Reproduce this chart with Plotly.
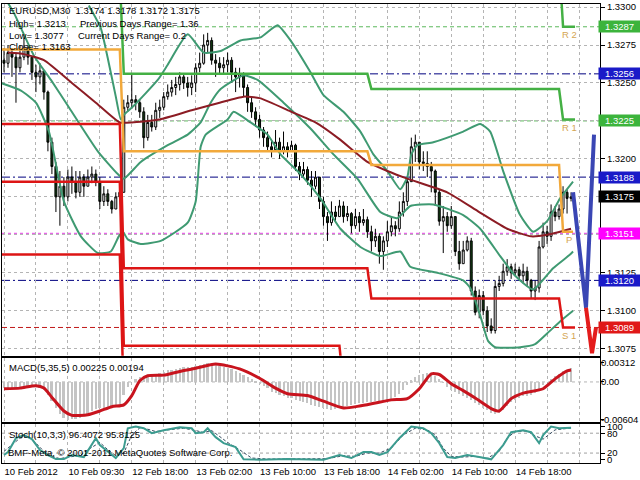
import plotly.graph_objects as go

# ---------------- data ----------------
symbol_title = "EURUSD,M30  1.3174 1.3178 1.3172 1.3175"
info_left = ["High= 1.3213", "Low= 1.3077", "Close= 1.3163"]
info_right = ["Previous Days Range= 1.36", "Current Days Range= 0.2"]
macd_title = "MACD(5,35,5) 0.00225 0.00194"
stoch_title = "Stoch(10,3,3) 96.4072 95.8125"
copyright_text = "BMF-Meta, \u00a9 2001-2011 MetaQuotes Software Corp."

time_label_idx = [0, 16, 32, 48, 64, 80, 96, 112, 128]
time_labels = ["10 Feb 2012", "10 Feb 09:30", "12 Feb 18:00", "13 Feb 02:00", "13 Feb 10:00",
               "13 Feb 18:00", "14 Feb 02:00", "14 Feb 10:00", "14 Feb 18:00"]
grid_idx = list(range(0, 150, 8))

price_ticks = [1.3300, 1.3275, 1.3250, 1.3225, 1.3200, 1.3175, 1.3150, 1.3125, 1.3100, 1.3075]

first_open = 1.3265
close = [
    1.3263, 1.3270, 1.3267, 1.3260, 1.3267, 1.3273, 1.3267, 1.3257, 1.3254, 1.3258,
    1.3244, 1.3211, 1.3195, 1.3175, 1.3182, 1.3175, 1.3188, 1.3185, 1.3178, 1.3188,
    1.3182, 1.3188, 1.3190, 1.3185, 1.3172, 1.3177, 1.3172, 1.3167, 1.3175, 1.3178,
    1.3234, 1.3237, 1.3239, 1.3237, 1.3231, 1.3214, 1.3224, 1.3221, 1.3232, 1.3234,
    1.3241, 1.3244, 1.3247, 1.3249, 1.3254, 1.3250, 1.3247, 1.3250, 1.3260, 1.3263,
    1.3275, 1.3278, 1.3265, 1.3263, 1.3260, 1.3262, 1.3265, 1.3257, 1.3254, 1.3256,
    1.3247, 1.3237, 1.3231, 1.3226, 1.3219, 1.3214, 1.3208, 1.3206, 1.3211, 1.3205,
    1.3208, 1.3205, 1.3209, 1.3195, 1.3190, 1.3193, 1.3186, 1.3182, 1.3188, 1.3172,
    1.3162, 1.3158, 1.3165, 1.3162, 1.3169, 1.3162, 1.3164, 1.3156, 1.3162, 1.3158,
    1.3160, 1.3152, 1.3146, 1.3149, 1.3139, 1.3146, 1.3152, 1.3156, 1.3154, 1.3165,
    1.3172, 1.3185, 1.3208, 1.3211, 1.3198, 1.3197, 1.3195, 1.3192, 1.3178, 1.3159,
    1.3162, 1.3156, 1.3162, 1.3139, 1.3131, 1.3140, 1.3146, 1.3113, 1.3099, 1.3110,
    1.3100, 1.3090, 1.3087, 1.3116, 1.3118, 1.3126, 1.3129, 1.3125, 1.3127, 1.3123,
    1.3126, 1.3120, 1.3113, 1.3115, 1.3142, 1.3152, 1.3149, 1.3165, 1.3162, 1.3167,
    1.3178, 1.3174, 1.3175]
high = [
    1.3273, 1.3275, 1.3273, 1.3270, 1.3275, 1.3280, 1.3275, 1.3267, 1.3262, 1.3263,
    1.3258, 1.3245, 1.3214, 1.3198, 1.3192, 1.3188, 1.3193, 1.3195, 1.3192, 1.3192,
    1.3190, 1.3193, 1.3195, 1.3193, 1.3188, 1.3182, 1.3180, 1.3173, 1.3178, 1.3182,
    1.3239, 1.3242, 1.3256, 1.3242, 1.3239, 1.3234, 1.3229, 1.3229, 1.3237, 1.3239,
    1.3244, 1.3249, 1.3252, 1.3254, 1.3257, 1.3256, 1.3254, 1.3255, 1.3263, 1.3270,
    1.3282, 1.3283, 1.3280, 1.3269, 1.3267, 1.3267, 1.3270, 1.3267, 1.3260, 1.3260,
    1.3257, 1.3249, 1.3241, 1.3234, 1.3229, 1.3221, 1.3218, 1.3212, 1.3219, 1.3214,
    1.3218, 1.3211, 1.3212, 1.3210, 1.3198, 1.3198, 1.3195, 1.3192, 1.3192, 1.3188,
    1.3175, 1.3165, 1.3172, 1.3169, 1.3173, 1.3172, 1.3169, 1.3165, 1.3167, 1.3165,
    1.3167, 1.3162, 1.3156, 1.3154, 1.3151, 1.3149, 1.3159, 1.3162, 1.3159, 1.3172,
    1.3178, 1.3188, 1.3214, 1.3216, 1.3211, 1.3205, 1.3205, 1.3198, 1.3193, 1.3180,
    1.3169, 1.3165, 1.3169, 1.3162, 1.3146, 1.3146, 1.3149, 1.3148, 1.3116, 1.3114,
    1.3113, 1.3103, 1.3095, 1.3120, 1.3123, 1.3131, 1.3134, 1.3131, 1.3131, 1.3129,
    1.3131, 1.3129, 1.3121, 1.3120, 1.3146, 1.3158, 1.3156, 1.3170, 1.3169, 1.3170,
    1.3182, 1.3180, 1.3178]
low = [
    1.3257, 1.3260, 1.3254, 1.3237, 1.3257, 1.3265, 1.3262, 1.3252, 1.3244, 1.3249,
    1.3239, 1.3205, 1.3190, 1.3165, 1.3156, 1.3169, 1.3172, 1.3177, 1.3174, 1.3175,
    1.3175, 1.3182, 1.3184, 1.3182, 1.3167, 1.3169, 1.3169, 1.3164, 1.3167, 1.3172,
    1.3178, 1.3231, 1.3233, 1.3232, 1.3227, 1.3207, 1.3212, 1.3218, 1.3219, 1.3227,
    1.3232, 1.3239, 1.3241, 1.3242, 1.3245, 1.3246, 1.3241, 1.3242, 1.3244, 1.3257,
    1.3262, 1.3270, 1.3262, 1.3254, 1.3256, 1.3256, 1.3257, 1.3250, 1.3244, 1.3247,
    1.3241, 1.3231, 1.3227, 1.3221, 1.3214, 1.3208, 1.3205, 1.3201, 1.3205, 1.3200,
    1.3203, 1.3201, 1.3205, 1.3192, 1.3186, 1.3188, 1.3183, 1.3175, 1.3180, 1.3167,
    1.3156, 1.3146, 1.3156, 1.3159, 1.3162, 1.3158, 1.3159, 1.3151, 1.3154, 1.3152,
    1.3156, 1.3148, 1.3139, 1.3142, 1.3131, 1.3127, 1.3142, 1.3149, 1.3149, 1.3152,
    1.3162, 1.3169, 1.3185, 1.3198, 1.3193, 1.3192, 1.3188, 1.3178, 1.3169, 1.3156,
    1.3138, 1.3152, 1.3154, 1.3136, 1.3127, 1.3131, 1.3139, 1.3110, 1.3097, 1.3095,
    1.3097, 1.3086, 1.3085, 1.3085, 1.3113, 1.3116, 1.3123, 1.3121, 1.3123, 1.3120,
    1.3118, 1.3116, 1.3108, 1.3107, 1.3112, 1.3141, 1.3144, 1.3146, 1.3159, 1.3160,
    1.3164, 1.3164, 1.3172]

# Bollinger bands
bb_up_idx = [21.25, 24.25, 26.25, 28, 29.25, 30, 32.5, 38.5, 41, 46, 50, 54.25, 59.25, 64.25,
             68.5, 71.75, 76.75, 80, 85, 89.25, 92.5, 96, 99.25, 101, 102, 103.5, 107.5, 115,
             119.25, 121.75, 125, 129.25, 132.5, 136, 139.25, 142.5]
bb_up = [1.3301, 1.3286, 1.3263, 1.3241, 1.3226, 1.3229, 1.3235, 1.3252, 1.3262, 1.3282,
         1.3270, 1.3271, 1.3278, 1.3280, 1.3288, 1.3278, 1.3257, 1.3242, 1.3231, 1.3218,
         1.3203, 1.3192, 1.3180, 1.3188, 1.3203, 1.3209, 1.3211, 1.3218, 1.3223, 1.3218,
         1.3192, 1.3163, 1.3152, 1.3159, 1.3174, 1.3185]
bb_mid_idx = [-0.75, 2.5, 7.5, 11.75, 16, 23.5, 28.5, 30, 34.25, 41, 46, 49.25, 51.75, 54.25,
              60, 63.5, 70, 76.75, 82.5, 88.5, 94.25, 98.5, 101.75, 107.5, 115, 119.25, 124.25,
              128, 132.5, 137.5, 141.75, 142.5]
bb_mid = [1.3310, 1.3296, 1.3268, 1.3252, 1.3235, 1.3205, 1.3190, 1.3187, 1.3198, 1.3209,
          1.3216, 1.3224, 1.3237, 1.3246, 1.3255, 1.3252, 1.3237, 1.3220, 1.3203, 1.3187,
          1.3165, 1.3161, 1.3169, 1.3170, 1.3163, 1.3154, 1.3136, 1.3123, 1.3114, 1.3128,
          1.3137, 1.3139]
bb_low_idx = [-0.75, 4.25, 8, 11.25, 15, 19.25, 23.5, 26.75, 28.75, 29.75, 31, 34.25, 39.25,
              46, 48, 49.25, 50.5, 56, 57.5, 61.75, 66, 69.25, 74.25, 79.25, 84.25, 89.25, 94.25,
              99.25, 101.75, 108.5, 115, 116.75, 119.25, 121.25, 123, 129.25, 133, 136, 139.25, 142.5]
bb_low = [1.3250, 1.3245, 1.3237, 1.3218, 1.3172, 1.3149, 1.3138, 1.3139, 1.3149, 1.3152,
          1.3147, 1.3144, 1.3146, 1.3158, 1.3172, 1.3208, 1.3216, 1.3226, 1.3231, 1.3224,
          1.3216, 1.3203, 1.3190, 1.3174, 1.3154, 1.3142, 1.3136, 1.3139, 1.3129, 1.3125,
          1.3120, 1.3115, 1.3097, 1.3080, 1.3076, 1.3076, 1.3078, 1.3085, 1.3093, 1.3100]

# moving average (maroon)
ma_idx = [1, 5, 10, 17, 23, 29, 32, 39, 47, 54, 60, 64, 72, 78, 84, 91, 96, 101, 111, 119,
          126, 132, 136, 142]
ma_val = [1.3270, 1.3269, 1.3265, 1.3250, 1.3237, 1.3224, 1.3224, 1.3226, 1.3232, 1.3237,
          1.3241, 1.3240, 1.3231, 1.3224, 1.3213, 1.3198, 1.3192, 1.3187, 1.3178, 1.3165,
          1.3154, 1.3149, 1.3150, 1.3154]

# daily pivot steps
pivot_idx = [-1, 29, 30, 91, 92, 139, 140, 142.5]
pivot_val = [1.3272, 1.3272, 1.3205, 1.3205, 1.3196, 1.3196, 1.3152, 1.3152]
r1_idx = [29, 30, 91, 92, 139, 140, 143]
r1_val = [1.3320, 1.3256, 1.3256, 1.3246, 1.3246, 1.3226, 1.3226]
r2_idx = [139, 140, 143]
r2_val = [1.3330, 1.3287, 1.3287]
s1_idx = [-1, 29, 30, 91, 92, 139, 140, 143]
s1_val = [1.3223, 1.3223, 1.3128, 1.3128, 1.3108, 1.3108, 1.3089, 1.3089]
s2_idx = [-1, 29, 30, 84, 85]
s2_val = [1.3185, 1.3185, 1.3077, 1.3077, 1.3050]
s3_idx = [-1, 29, 30]
s3_val = [1.3137, 1.3137, 1.3040]

# horizontal level lines (price, colour, dash)
level_prices = [1.3287, 1.3256, 1.3225, 1.3188, 1.3151, 1.3120, 1.3089]
level_colors = ["#5cb85c", "#000080", "#5cb85c", "#000080", "#e040e0", "#000080", "#c01818"]
level_dashes = ["4px,3px", "8px,3px,2px,3px", "4px,3px", "8px,3px,2px,3px", "3px,3px",
                "8px,3px,2px,3px", "5px,3px"]
# right side price tags (price, background)
tag_prices = [1.3287, 1.3256, 1.3225, 1.3188, 1.3175, 1.3151, 1.3120, 1.3089]
tag_colors = ["#3cb43c", "#1a1ac8", "#3cb43c", "#1a1ac8", "#000000", "#ff00ff", "#1a1ac8", "#e01818"]
pivot_names = ["R 2", "R 1", "P", "S 1"]
pivot_name_prices = [1.3287, 1.3226, 1.3152, 1.3089]

# projection zig-zags
proj_blue_idx = [142.5, 145.75, 147.75]
proj_blue = [1.3178, 1.3102, 1.3216]
proj_red_idx = [145.75, 147.25, 148.25]
proj_red = [1.3102, 1.3072, 1.3089]

# MACD
macd_main = [
    -0.0010, -0.0010, -0.0009, -0.0009, -0.0009, -0.0008, -0.0008, -0.0008, -0.0008, -0.0010,
    -0.0012, -0.0020, -0.0030, -0.0042, -0.0052, -0.0057, -0.00604, -0.0060, -0.0059, -0.0057,
    -0.0055, -0.0051, -0.0047, -0.0044, -0.0042, -0.0041, -0.0040, -0.0039, -0.0038, -0.0035,
    -0.0020, -0.0008, 0.0000, 0.0006, 0.0008, 0.0008, 0.0010, 0.0011, 0.0013, 0.0015,
    0.0017, 0.0019, 0.0020, 0.0022, 0.0023, 0.0024, 0.0025, 0.0025, 0.0027, 0.0028,
    0.0030, 0.00312, 0.0030, 0.0028, 0.0027, 0.0025, 0.0023, 0.0021, 0.0018, 0.0015,
    0.0012, 0.0008, 0.0005, 0.0002, -0.0002, -0.0006, -0.0010, -0.0015, -0.0018, -0.0021,
    -0.0023, -0.0025, -0.0026, -0.0028, -0.0030, -0.0032, -0.0034, -0.0036, -0.0038, -0.0040,
    -0.0042, -0.0044, -0.0045, -0.0044, -0.0042, -0.0040, -0.0038, -0.0036, -0.0035, -0.0034,
    -0.0033, -0.0032, -0.0032, -0.0031, -0.0031, -0.0030, -0.0029, -0.0027, -0.0024, -0.0019,
    -0.0012, -0.0004, 0.0003, 0.0008, 0.0012, 0.0014, 0.0015, 0.0014, 0.0010, 0.0005,
    -0.0001, -0.0007, -0.0012, -0.0016, -0.0019, -0.0022, -0.0025, -0.0029, -0.0033, -0.0037,
    -0.0041, -0.0045, -0.0049, -0.0051, -0.0050, -0.0045, -0.0038, -0.0032, -0.0028, -0.0025,
    -0.0023, -0.0022, -0.0021, -0.0018, -0.0011, -0.0005, 0.0000, 0.0005, 0.0010, 0.0014,
    0.0018, 0.0020, 0.00225]
macd_sig_idx = [0, 4, 8, 10, 12, 15, 17, 21, 24, 27, 30, 32, 34, 36, 40, 44, 48, 53, 59, 64,
                68, 71, 76, 80, 85, 89, 93, 97, 101, 104, 107, 109, 112, 115, 118, 122, 124, 127,
                130, 135, 138, 141, 142]
macd_signal = [-0.0011, -0.0010, -0.0006, -0.0010, -0.0025, -0.0047, -0.0054, -0.0053, -0.0047, -0.0040,
               -0.0037, -0.0022, 0.0002, 0.0010, 0.0011, 0.0017, 0.0022, 0.0029, 0.0021, 0.0006,
               -0.0010, -0.0019, -0.0022, -0.0031, -0.0042, -0.0039, -0.0034, -0.0029, -0.0027, -0.0011,
               0.0013, 0.0012, -0.0003, -0.0014, -0.0026, -0.0043, -0.0047, -0.0027, -0.0018, -0.0011,
               0.0005, 0.0018, 0.00194]
macd_ticks = [0.00312, 0.0, -0.00604]
macd_ticktext = ["0.00312", "0.00", "-0.00604"]

# Stochastic
st_main_idx = [0, 1, 3, 5, 7, 9, 11, 13, 15, 17, 20, 22, 23, 24, 27, 28, 30, 31, 33, 35,
               37, 40, 44, 47, 48, 50, 51, 53, 55, 58, 60, 64, 71, 77, 80, 84, 87, 90, 92, 94,
               96, 99, 101, 102, 105, 107, 109, 111, 113, 116, 119, 122, 125, 127, 130, 132, 134, 135, 137, 139,
               142]
st_main = [14, 23, 65, 74, 62, 29, 14, 2, 2, 14, 8, 44, 65, 44, 14, 5, 35, 95, 100, 95,
           80, 89, 98, 95, 80, 83, 95, 68, 50, 38, 1, 0, 2, 1, 0, 14, 5, 23, 23, 14,
           23, 65, 89, 100, 95, 80, 50, 8, 5, 14, 8, 1, 44, 83, 89, 83, 50, 74, 100, 95,
           96.4]
st_sig_idx = [0, 2, 4, 6, 8, 10, 12, 14, 16, 19, 21, 24, 26, 28, 30, 32, 34, 36, 38, 41,
              45, 48, 50, 52, 54, 56, 59, 62, 66, 72, 78, 81, 85, 88, 91, 94, 97, 100, 103, 106,
              108, 110, 112, 115, 118, 121, 124, 126, 128, 131, 133, 135, 138, 140, 142]
st_sig = [25, 45, 65, 70, 50, 25, 10, 3, 8, 12, 30, 52, 30, 12, 20, 75, 96, 92, 85, 90,
          95, 88, 82, 88, 70, 52, 30, 5, 2, 3, 2, 3, 12, 10, 20, 20, 35, 75, 95, 90,
          75, 35, 10, 8, 10, 4, 25, 65, 85, 87, 72, 62, 90, 94, 95.8]
stoch_levels = [80, 20]
stoch_ticks = [100, 80, 20, 0]

# ---------------- figure ----------------
bars = list(range(len(close)))
opens = [first_open] + close[:-1]

FONT = "Liberation Sans, Arial, sans-serif"
GREEN_BB = "#3f9a72"

fig = go.Figure()

for ix, vv, col in [(bb_up_idx, bb_up, GREEN_BB), (bb_mid_idx, bb_mid, GREEN_BB),
                    (bb_low_idx, bb_low, GREEN_BB), (ma_idx, ma_val, "#8c1c24")]:
    fig.add_trace(go.Scatter(x=ix, y=vv, mode="lines",
                             line=dict(color=col, width=2, shape="spline", smoothing=0.5),
                             hoverinfo="skip", xaxis="x", yaxis="y"))

for ix, vv, col in [(pivot_idx, pivot_val, "#f2a93b"), (r1_idx, r1_val, "#44b044"),
                    (r2_idx, r2_val, "#44b044"), (s1_idx, s1_val, "#dd1515"),
                    (s2_idx, s2_val, "#dd1515"), (s3_idx, s3_val, "#dd1515")]:
    fig.add_trace(go.Scatter(x=ix, y=vv, mode="lines", line=dict(color=col, width=2.5),
                             hoverinfo="skip", xaxis="x", yaxis="y"))

fig.add_trace(go.Candlestick(x=bars, open=opens, high=high, low=low, close=close,
                             increasing=dict(fillcolor="white", line=dict(color="black", width=1)),
                             decreasing=dict(fillcolor="#123d12", line=dict(color="black", width=1)),
                             whiskerwidth=0, hoverinfo="skip", xaxis="x", yaxis="y"))

fig.add_trace(go.Scatter(x=proj_blue_idx, y=proj_blue, mode="lines", line=dict(color="#3a46b4", width=4),
                         hoverinfo="skip", xaxis="x", yaxis="y"))
fig.add_trace(go.Scatter(x=proj_red_idx, y=proj_red, mode="lines", line=dict(color="#e41c1c", width=4),
                         hoverinfo="skip", xaxis="x", yaxis="y"))

# MACD
fig.add_trace(go.Bar(x=bars, y=macd_main, marker=dict(color="#c4c4c4", line=dict(width=0)), width=0.5,
                     hoverinfo="skip", xaxis="x2", yaxis="y2"))
fig.add_trace(go.Scatter(x=macd_sig_idx, y=macd_signal, mode="lines",
                         line=dict(color="#c8141e", width=3, shape="spline", smoothing=0.6),
                         hoverinfo="skip", xaxis="x2", yaxis="y2"))

# Stochastic
fig.add_trace(go.Scatter(x=st_sig_idx, y=st_sig, mode="lines",
                         line=dict(color="#34495e", width=1, dash="3px,2px"),
                         hoverinfo="skip", xaxis="x3", yaxis="y3"))
fig.add_trace(go.Scatter(x=st_main_idx, y=st_main, mode="lines",
                         line=dict(color="#3c9c90", width=2),
                         hoverinfo="skip", xaxis="x3", yaxis="y3"))

# ---- layout geometry ----
L, R, T, B = 1, 40, 1, 17
PW, PH = 640 - L - R, 480 - T - B


def fx(px):
    return (px - L) / PW


def fy(py):
    return (480 - B - py) / PH


X_RANGE = [-0.5, -0.5 + PW / 4.0]
main_dom = [fy(355), 1.0]
macd_dom = [fy(422), fy(357)]
stoch_dom = [0.0, fy(424)]

grid_common = dict(showgrid=True, gridcolor="#b4b4b4", griddash="3px,3px", gridwidth=1,
                   zeroline=False, showline=True, mirror=True, linecolor="black", linewidth=1)

xcommon = dict(range=X_RANGE, tickvals=grid_idx, fixedrange=True, **grid_common)
fig.update_layout(
    width=640, height=480, margin=dict(l=L, r=R, t=T, b=B),
    paper_bgcolor="white", plot_bgcolor="white", showlegend=False,
    font=dict(family=FONT, size=9.5, color="black"),
    bargap=0,
    xaxis=dict(domain=[0, 1], anchor="y", showticklabels=False, ticks="",
               rangeslider=dict(visible=False), **xcommon),
    xaxis2=dict(domain=[0, 1], anchor="y2", matches="x", showticklabels=False, ticks="", **xcommon),
    xaxis3=dict(domain=[0, 1], anchor="y3", matches="x", showticklabels=True, ticks="",
                ticktext=[time_labels[time_label_idx.index(g)] if g in time_label_idx else "" for g in grid_idx],
                ticklabelposition="outside right", tickangle=0, **xcommon),
    yaxis=dict(domain=main_dom, anchor="x", side="right", range=[1.30704, 1.33020],
               tickvals=price_ticks, ticktext=[f"{v:.4f}" for v in price_ticks],
               ticks="outside", ticklen=4, tickcolor="black", fixedrange=True, **grid_common),
    yaxis2=dict(domain=macd_dom, anchor="x2", side="right", range=[-0.00652, 0.00392],
                tickvals=macd_ticks, ticktext=macd_ticktext, ticks="outside", ticklen=3,
                tickcolor="black", fixedrange=True, ticklabelstandoff=-5,
                **{**grid_common, "showgrid": False}),
    yaxis3=dict(domain=stoch_dom, anchor="x3", side="right", range=[-10, 107],
                tickvals=stoch_ticks, ticktext=[str(v) for v in stoch_ticks], ticks="outside", ticklen=4,
                tickcolor="black", fixedrange=True,
                **{**grid_common, "showgrid": False}),
)

shapes = []
for p, c, d in zip(level_prices, level_colors, level_dashes):
    shapes.append(dict(type="line", xref="x domain", x0=0, x1=1, yref="y", y0=p, y1=p,
                       line=dict(color=c, width=1, dash=d), layer="below"))
shapes.append(dict(type="line", xref="x2 domain", x0=0, x1=1, yref="y2", y0=0, y1=0,
                   line=dict(color="#b4b4b4", width=1, dash="3px,3px"), layer="below"))
for lv in stoch_levels:
    shapes.append(dict(type="line", xref="x3 domain", x0=0, x1=1, yref="y3", y0=lv, y1=lv,
                       line=dict(color="#a0a0a0", width=1, dash="3px,3px"), layer="below"))
fig.update_layout(shapes=shapes)

ann = []
ann.append(dict(x=fx(6), y=fy(8), xref="paper", yref="paper", text=symbol_title, showarrow=False,
                xanchor="left", yanchor="middle"))
for k, t in enumerate(info_left):
    ann.append(dict(x=fx(6), y=fy(21 + 11.5 * k), xref="paper", yref="paper", text=t, showarrow=False,
                    xanchor="left", yanchor="middle"))
for k, t in enumerate(info_right):
    ann.append(dict(x=fx(77 - 2 * k), y=fy(21 + 11.5 * k), xref="paper", yref="paper", text=t, showarrow=False,
                    xanchor="left", yanchor="middle"))
ann.append(dict(x=fx(6), y=fy(367), xref="paper", yref="paper", text=macd_title, showarrow=False,
                xanchor="left", yanchor="middle"))
ann.append(dict(x=fx(6), y=fy(434), xref="paper", yref="paper", text=stoch_title, showarrow=False,
                xanchor="left", yanchor="middle"))
ann.append(dict(x=fx(5), y=fy(452), xref="paper", yref="paper", text=copyright_text, showarrow=False,
                xanchor="left", yanchor="middle"))
for p, c in zip(tag_prices, tag_colors):
    ann.append(dict(x=1, xref="paper", y=p, yref="y", text=f"{p:.4f}", showarrow=False,
                    xanchor="left", yanchor="middle", xshift=-2, bgcolor=c, width=41, height=11,
                    borderpad=0, font=dict(color="white", size=9.5, family=FONT)))
for t, p in zip(pivot_names, pivot_name_prices):
    ann.append(dict(x=141.5, xref="x", y=p, yref="y", text=t, showarrow=False, yshift=-8,
                    font=dict(color="#d4a552", size=9.5, family=FONT)))
fig.update_layout(annotations=ann)

fig.write_html("out.html", config={"displayModeBar": False},
               post_script="document.body.style.margin='0px';document.body.style.overflow='hidden';")
